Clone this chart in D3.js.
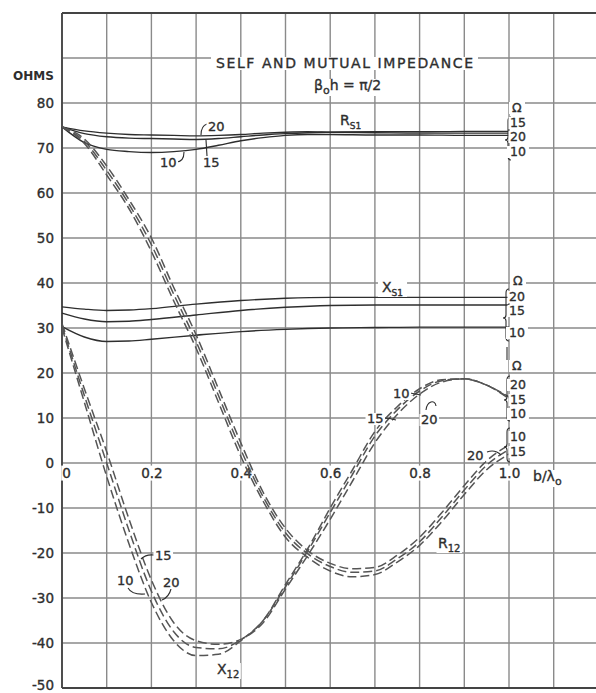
<!DOCTYPE html>
<html><head><meta charset="utf-8">
<script src="https://cdnjs.cloudflare.com/ajax/libs/d3/7.8.5/d3.min.js"></script>
<style>body{margin:0;background:#fff}svg{display:block}</style>
</head><body><svg id="c" width="596" height="693"></svg>
<script>
// ---------- data ----------
const xTickVals = [0, 0.2, 0.4, 0.6, 0.8, 1.0];
const xTickLabels = ["0", "0.2", "0.4", "0.6", "0.8", "1.0"];
const yTickVals = [80, 70, 60, 50, 40, 30, 20, 10, 0, -10, -20, -30, -40, -50];
const yTickLabels = ["80", "70", "60", "50", "40", "30", "20", "10", "0", "-10", "-20", "-30", "-40", "-50"];

// self resistance R_S1 (solid)
const rs1X   = [0, 0.05, 0.1, 0.15, 0.2, 0.25, 0.3, 0.35, 0.4, 0.45, 0.5, 0.55, 0.6, 0.7, 0.8, 0.9, 1.0];
const rs1_20 = [74.7, 73.8, 73.3, 73.0, 72.9, 72.8, 72.7, 72.8, 73.0, 73.3, 73.5, 73.6, 73.5, 73.4, 73.3, 73.3, 73.3];
const rs1_15 = [74.7, 73.2, 72.5, 72.2, 72.1, 72.0, 71.9, 72.1, 72.5, 72.9, 73.2, 73.4, 73.5, 73.6, 73.6, 73.7, 73.7];
const rs1_10 = [74.7, 71.2, 69.7, 69.2, 69.0, 69.2, 69.7, 70.6, 71.6, 72.3, 72.8, 73.0, 73.0, 72.9, 72.9, 72.8, 72.8];

// self reactance X_S1 (solid)
const xs1X   = [0, 0.05, 0.1, 0.15, 0.2, 0.3, 0.4, 0.5, 0.6, 0.7, 0.8, 0.9, 1.0];
const xs1_20 = [34.7, 34.2, 33.9, 34.0, 34.3, 35.3, 36.1, 36.6, 36.8, 36.8, 36.8, 36.8, 36.8];
const xs1_15 = [33.3, 32.0, 31.4, 31.5, 31.9, 32.9, 33.9, 34.6, 35.0, 35.1, 35.1, 35.1, 35.1];
const xs1_10 = [30.3, 28.0, 27.0, 27.1, 27.5, 28.4, 29.2, 29.7, 30.0, 30.1, 30.2, 30.2, 30.2];

// mutual impedance (dashed)
const mutX   = [0, 0.05, 0.1, 0.15, 0.2, 0.25, 0.3, 0.35, 0.4, 0.45, 0.5, 0.55, 0.6, 0.65, 0.7, 0.75, 0.8, 0.85, 0.9, 0.95, 1.0];
const r12_10 = [74.7, 72.0, 66.0, 58.5, 50.0, 39.0, 28.5, 16.5, 4.5, -6.5, -14.5, -19.5, -22.3, -23.5, -23.2, -20.5, -16.5, -11.0, -5.0, 0.5, 4.0];
const r12_15 = [74.7, 71.5, 65.0, 57.5, 48.5, 37.5, 27.0, 15.0, 3.0, -7.5, -15.5, -20.2, -23.0, -24.3, -24.0, -21.3, -17.5, -12.0, -6.0, -0.5, 3.0];
const r12_20 = [74.7, 71.0, 64.0, 56.5, 47.0, 36.0, 25.5, 13.5, 1.5, -8.5, -16.5, -21.0, -24.0, -25.3, -24.8, -22.0, -18.3, -13.0, -7.0, -1.5, 2.0];
const x12_10 = [30.0, 13.5, -3.0, -18.0, -31.0, -39.5, -42.8, -42.5, -39.5, -35.0, -27.0, -19.0, -10.0, -1.5, 7.0, 12.5, 16.5, 18.5, 18.7, 17.3, 14.3];
const x12_15 = [30.5, 15.0, 0.0, -15.0, -28.5, -37.5, -41.0, -41.3, -39.3, -35.0, -27.5, -19.5, -11.0, -2.5, 6.0, 11.8, 16.0, 18.3, 18.7, 17.3, 14.5];
const x12_20 = [31.0, 16.5, 2.5, -12.5, -26.0, -35.5, -39.5, -40.3, -39.2, -35.5, -28.0, -20.5, -12.5, -4.0, 4.5, 10.8, 15.3, 18.0, 18.7, 17.3, 14.7];

// ---------- drawing ----------
const svg = d3.select("#c");
const FONT = "'DejaVu Sans', sans-serif";
const INK = "#2e2e2e";
const GRID = "#8a8a8a";

const x = d3.scaleLinear().domain([0, 1.2]).range([62, 598.4]);
const y = d3.scaleLinear().domain([-50, 100]).range([688, 13]);

// grid
const gridXs = d3.range(0, 13).map(i => i / 10);
const gridYs = d3.range(-50, 101, 10);
const grid = svg.append("g");
grid.selectAll("line.v").data(gridXs).join("line").attr("class", "v")
  .attr("x1", d => x(d)).attr("x2", d => x(d)).attr("y1", y(100)).attr("y2", y(-50))
  .attr("stroke", GRID).attr("stroke-width", 1.4);
grid.selectAll("line.h").data(gridYs).join("line").attr("class", "h")
  .attr("x1", x(0)).attr("x2", x(1.2)).attr("y1", d => y(d)).attr("y2", d => y(d))
  .attr("stroke", GRID).attr("stroke-width", 1.4);
// frame
const frame = svg.append("g").attr("stroke", "#444").attr("stroke-width", 1.8);
frame.append("line").attr("x1", x(0)).attr("x2", x(0)).attr("y1", y(100)).attr("y2", y(-50));
frame.append("line").attr("x1", x(0)).attr("x2", x(1.2)).attr("y1", y(100)).attr("y2", y(100));
frame.append("line").attr("x1", x(0)).attr("x2", x(1.2)).attr("y1", y(-50)).attr("y2", y(-50));

// helper: text with white background
function addLabel(parts, px, py, opts = {}) {
  const g = svg.append("g");
  const t = g.append("text").attr("x", px).attr("y", py)
    .attr("font-family", FONT).attr("font-size", opts.size || 13)
    .attr("font-weight", opts.weight || "normal")
    .attr("fill", INK).attr("stroke", INK).attr("stroke-width", opts.sw == null ? 0.35 : opts.sw)
    .attr("text-anchor", opts.anchor || "start");
  if (opts.textLength) t.attr("textLength", opts.textLength).attr("lengthAdjust", "spacing");
  let base = 0;
  parts.forEach(p => {
    if (typeof p === "string") {
      const dy = -base; base = 0;
      t.append("tspan").attr("dy", dy).text(p);
    } else {
      const dy = p.dy - base; base = p.dy;
      t.append("tspan").attr("dy", dy).attr("font-size", p.size).text(p.t);
    }
  });
  if (opts.bg !== false) {
    const bb = t.node().getBBox();
    const pad = opts.pad == null ? 1.5 : opts.pad;
    g.insert("rect", "text").attr("x", bb.x - pad).attr("y", bb.y + 2)
      .attr("width", bb.width + 2 * pad).attr("height", bb.height - 3).attr("fill", "#fff");
  }
  return g;
}

// y axis labels
const yAxis = d3.axisLeft(y).tickValues(yTickVals).tickSize(0).tickPadding(8)
  .tickFormat((d, i) => yTickLabels[i]);
const gy = svg.append("g").attr("transform", `translate(${x(0)},0)`).call(yAxis);
gy.select(".domain").remove();
gy.selectAll("text").attr("font-family", FONT).attr("font-size", 13.5).attr("fill", INK)
  .attr("stroke", INK).attr("stroke-width", 0.35);
gy.selectAll(".tick").filter(d => d === -50).select("text").attr("dy", "0.1em");

// x axis labels
const xAxis = d3.axisBottom(x).tickValues(xTickVals).tickSize(0).tickPadding(5)
  .tickFormat((d, i) => xTickLabels[i]);
const gx = svg.append("g").attr("transform", `translate(0,${y(0)})`).call(xAxis);
gx.select(".domain").remove();
gx.selectAll("text").attr("font-family", FONT).attr("font-size", 13.5).attr("fill", INK)
  .attr("stroke", INK).attr("stroke-width", 0.35);
gx.selectAll(".tick").filter(d => d === 0).select("text").attr("dx", 4);
gx.selectAll(".tick").each(function () {
  const tk = d3.select(this);
  const bb = tk.select("text").node().getBBox();
  tk.insert("rect", "text").attr("x", bb.x - 1).attr("y", bb.y + 1)
    .attr("width", bb.width + 2).attr("height", bb.height - 1).attr("fill", "#fff");
});
addLabel(["b/λ", { t: "o", size: 11, dy: 4 }], 533, 481, { size: 14 });

// titles
addLabel(["OHMS"], 13, 80, { size: 12, weight: "bold", bg: false, sw: 0 });
addLabel(["SELF AND MUTUAL IMPEDANCE"], 216, 68, { size: 14, textLength: 257, pad: 5 });
addLabel(["β", { t: "o", size: 11, dy: 4 }, "h = π/2"], 314, 90, { size: 14 });

// curves
const line = d3.line().x(d => x(d[0])).y(d => y(d[1])).curve(d3.curveMonotoneX);
const curves = svg.append("g").attr("fill", "none");
function solid(xs, ys) {
  curves.append("path").datum(xs.map((v, i) => [v, ys[i]])).attr("d", line)
    .attr("stroke", INK).attr("stroke-width", 1.4);
}
function dashed(xs, ys) {
  curves.append("path").datum(xs.map((v, i) => [v, ys[i]])).attr("d", line)
    .attr("stroke", "#555").attr("stroke-width", 1.5).attr("stroke-dasharray", "9,4");
}
solid(rs1X, rs1_20); solid(rs1X, rs1_15); solid(rs1X, rs1_10);
solid(xs1X, xs1_20); solid(xs1X, xs1_15); solid(xs1X, xs1_10);
dashed(mutX, r12_10); dashed(mutX, r12_15); dashed(mutX, r12_20);
dashed(mutX, x12_10); dashed(mutX, x12_15); dashed(mutX, x12_20);

// curve names
addLabel(["R", { t: "S1", size: 9, dy: 4 }], 340, 125, { size: 14 });
addLabel(["X", { t: "S1", size: 9, dy: 4 }], 382, 292, { size: 14, pad: 4 });
addLabel(["X", { t: "12", size: 10, dy: 4 }], 217, 674, { size: 14 });
addLabel(["R", { t: "12", size: 10, dy: 4 }], 438, 548, { size: 14 });

// parameter labels near curves
const ptr = svg.append("g").attr("fill", "none").attr("stroke", INK).attr("stroke-width", 1.1);
addLabel(["20"], 208, 131, { size: 13 });
ptr.append("path").attr("d", "M207,124 Q201,126 201,135");
addLabel(["10"], 160, 167, { size: 13 });
ptr.append("path").attr("d", "M176,162 Q184,162 184,152");
addLabel(["15"], 203, 167, { size: 13 });
ptr.append("path").attr("d", "M207,156 L206,140");

addLabel(["10"], 393, 398, { size: 13 });
ptr.append("path").attr("d", "M410,393 L421,395");
addLabel(["15"], 367, 423, { size: 13 });
ptr.append("path").attr("d", "M383,418 Q390,418 396,420");
addLabel(["20"], 421, 424, { size: 13 });
ptr.append("path").attr("d", "M426,410 C427,401 435,399 436,406");

addLabel(["15"], 155, 560, { size: 13 });
ptr.append("path").attr("d", "M154,555 Q146,554 141,559");
addLabel(["10"], 117, 585, { size: 13 });
ptr.append("path").attr("d", "M128,588 Q132,595 145,594");
addLabel(["20"], 163, 587, { size: 13 });
ptr.append("path").attr("d", "M171,589 Q169,597 162,600");

addLabel(["20"], 467, 460, { size: 13 });
ptr.append("path").attr("d", "M487,452 Q495,449 501,455");

// braces with omega labels
function brace(bx, top, mid, bot) {
  ptr.append("path").attr("d",
    `M${bx + 3},${top} Q${bx},${top} ${bx},${top + 4} L${bx},${mid - 3} Q${bx},${mid} ${bx - 3},${mid} ` +
    `Q${bx},${mid} ${bx},${mid + 3} L${bx},${bot - 4} Q${bx},${bot} ${bx + 3},${bot}`);
}
addLabel(["Ω"], 512, 112, { size: 12.5, pad: 3 });
addLabel(["15"], 510, 127, { size: 12.5 });
addLabel(["20"], 510, 141, { size: 12.5 });
addLabel(["10"], 510, 156, { size: 12.5, pad: 3 });
brace(508, 117, 140, 160);

addLabel(["Ω"], 513, 285, { size: 12.5, pad: 3 });
addLabel(["20"], 509, 301, { size: 12.5 });
addLabel(["15"], 509, 315, { size: 12.5 });
addLabel(["10"], 509, 337, { size: 12.5, pad: 3 });
brace(506, 289, 318, 341);

ptr.append("path").attr("d", "M507,347 L507,360");
addLabel(["Ω"], 512, 370, { size: 12.5, pad: 3 });
addLabel(["20"], 510, 389, { size: 12.5, pad: 3 });
addLabel(["15"], 510, 404, { size: 12.5 });
addLabel(["10"], 510, 418, { size: 12.5, pad: 3 });
brace(507, 376, 400, 421);

addLabel(["10"], 510, 441, { size: 12.5 });
addLabel(["15"], 510, 456, { size: 12.5 });
brace(507, 428, 447, 462);
</script>
</body></html>
